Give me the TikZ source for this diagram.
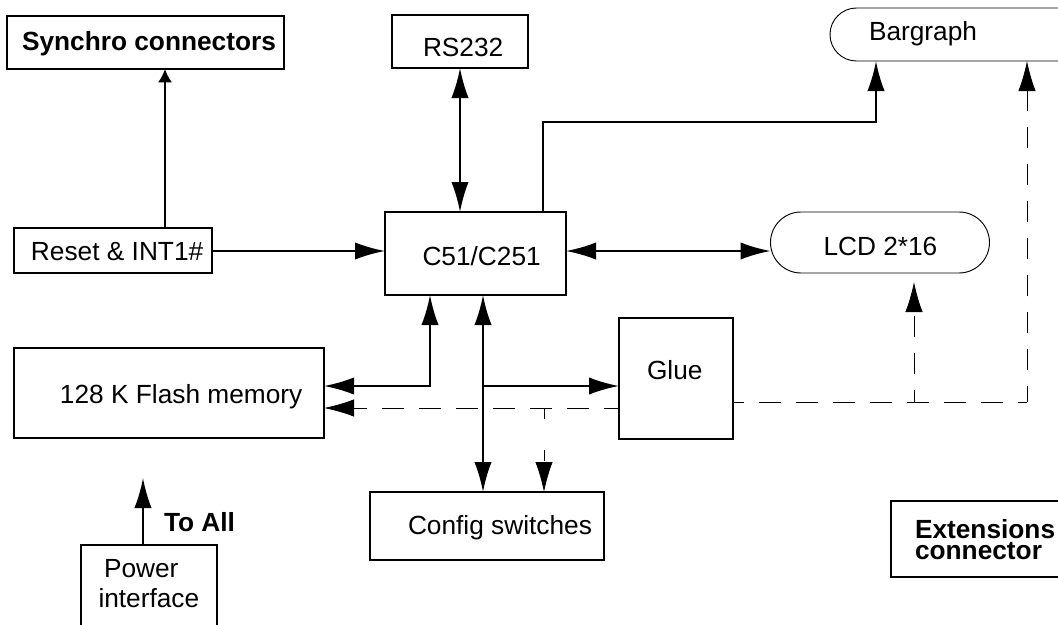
\documentclass[tikz,border=0pt]{standalone}
\usepackage{fontspec}
\setmainfont{Liberation Sans}
\usetikzlibrary{arrows.meta,shapes.misc}
\tikzset{
  x=0.75pt,y=-0.75pt,
  box/.style={draw=black,line width=1.5pt,inner sep=0pt,outer sep=0pt,fill=none},
  pill/.style={draw=black,line width=0.7pt,rounded rectangle,rounded rectangle arc length=180,inner sep=0pt,outer sep=0pt},
  txt/.style={inner sep=0pt,outer sep=0pt,font=\fontsize{19.7pt}{24pt}\selectfont,anchor=base west},
  btxt/.style={txt,font=\fontsize{19.7pt}{24pt}\selectfont\bfseries},
  conn/.style={line width=1.5pt,line join=miter},
  one/.style={conn,-{Latex[length=22.5pt,width=13pt]}},
  small/.style={conn,-{Latex[length=10pt,width=10.5pt]}},
  two/.style={conn,{Latex[length=22.5pt,width=13pt]}-{Latex[length=22.5pt,width=13pt]}},
  dash1/.style={line width=0.6pt,dash pattern=on 16pt off 11.75pt},
  dashar/.style={dash1,-{Latex[length=22.5pt,width=13pt]}}
}
\begin{document}
\begin{tikzpicture}
\useasboundingbox (0,0) rectangle (1058,625);
\clip (0,0) rectangle (1058,625);
% boxes
\node[box,minimum width=277*0.75pt,minimum height=53*0.75pt] (sync) at (145.5,42.5) {};
\node[box,minimum width=136*0.75pt,minimum height=53*0.75pt] (rs) at (460,41.5) {};
\node[pill,minimum width=260*0.75pt,minimum height=53*0.75pt] (bar) at (960,34.5) {};
\node[box,minimum width=181*0.75pt,minimum height=83*0.75pt] (cpu) at (475.5,253.5) {};
\node[pill,minimum width=219*0.75pt,minimum height=61*0.75pt] (lcd) at (880,242.5) {};
\node[box,minimum width=198*0.75pt,minimum height=45*0.75pt] (rst) at (113,250.5) {};
\node[box,minimum width=310*0.75pt,minimum height=90*0.75pt] (flash) at (169,393) {};
\node[box,minimum width=114*0.75pt,minimum height=121*0.75pt] (glue) at (676,378.5) {};
\node[box,minimum width=234*0.75pt,minimum height=68*0.75pt] (cfg) at (487,526) {};
\node[box,minimum width=136*0.75pt,minimum height=100*0.75pt] (pwr) at (149,595) {};
\node[box,minimum width=200*0.75pt,minimum height=76*0.75pt] (ext) at (991,539) {};
% texts
\node[btxt] (syncT) at (22,50) {Synchro connectors};
\node[txt] (rsT) at (423,56) {RS232};
\node[txt] (barT) at (869,40) {Bargraph};
\node[txt] (cpuT) at (422.5,265) {C51/C251};
\node[txt] (lcdT) at (823.5,255) {LCD 2*16};
\node[txt] (rstT) at (31,260) {Reset \& INT1\#};
\node[txt] (flashT) at (60,403) {128 K Flash memory};
\node[txt] (glueT) at (647,379) {Glue};
\node[txt] (cfgT) at (408,534) {Config switches};
\node[txt] (pwrT1) at (104,577) {Power};
\node[txt] (pwrT2) at (98.5,607) {interface};
\node[btxt] (toall) at (164,531) {To All};
\node[btxt,anchor=west,align=left,font=\fontsize{19.7pt}{15.75pt}\selectfont\bfseries] (extT) at (915,540) {Extensions\\connector};
% free ends and routing levels
\coordinate (xsync) at (165,0);
\coordinate (xflash) at (430,0);
\coordinate (xcfg) at (483,0);
\coordinate (xdash) at (544,0);
\coordinate (xbar) at (543,0);
\coordinate (xbarin) at (876,0);
\coordinate (xbardash) at (1027,0);
\coordinate (xlcd) at (914,0);
\coordinate (ysol) at (0,386);
\coordinate (ydash) at (0,408);
\coordinate (yext) at (0,402);
\coordinate (ybar) at (0,122);
\coordinate (ycpu) at (0,251);
\coordinate (toalltip) at (143,478);
\coordinate (lcdtip) at (914,282);
% solid connectors
\draw[small] (rst.north -| xsync) -- (sync.south -| xsync);
\draw[two] (rs.south) -- (cpu.north -| rs.south);
\draw[one] (cpu.north -| xbar) |- (ybar -| xbarin) -- (bar.south -| xbarin);
\draw[one] (rst.east |- ycpu) -- (cpu.west |- ycpu);
\draw[two] (cpu.east |- ycpu) -- (lcd.west |- ycpu);
\draw[two] (cpu.south -| xflash) |- (flash.east |- ysol);
\draw[two] (cpu.south -| xcfg) -- (cfg.north -| xcfg);
\draw[one] (xcfg |- ysol) -- (glue.west |- ysol);
\draw[one] (pwr.north -| toalltip) -- (toalltip);
% dashed connectors
\draw[dashar,dash phase=5pt] (glue.west |- ydash) -- (flash.east |- ydash);
\draw[dashar,dash pattern=on 8.25pt off 23.25pt] (xdash |- ydash) -- (cfg.north -| xdash);
\draw[dash1,dash phase=8pt] (glue.east |- yext) -- (xbardash |- yext);
\draw[dashar,dash phase=4pt] (xbardash |- yext) -- (bar.south -| xbardash);
\draw[dashar,dash phase=7pt] (xlcd |- yext) -- (lcdtip);
\end{tikzpicture}
\end{document}
